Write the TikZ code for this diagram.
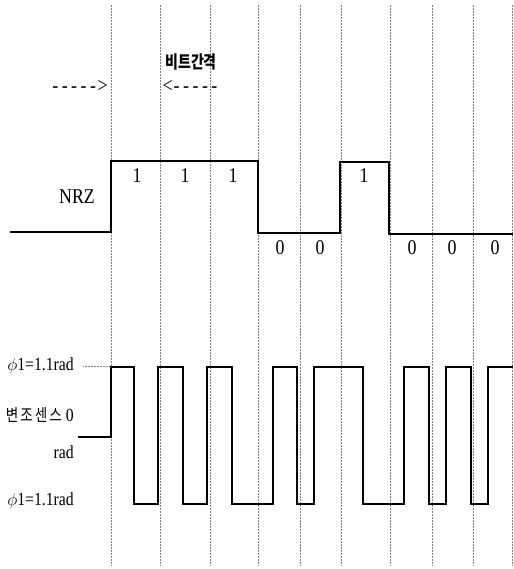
\documentclass[tikz,border=0pt]{standalone}
\usepackage{fontspec}
\setmainfont{Liberation Serif}[FakeStretch=0.85]
\newfontfamily\kor{Noto Sans CJK KR}[FakeStretch=0.8]
\newcommand\strich{-\kern3.5pt}
\tikzset{
	raster/.style={gray, densely dotted, line width=0.5pt},
	signal/.style={black, line width=1.2pt, line join=miter},
	bit/.style={font=\fontsize{21}{23}\selectfont},
	beschr/.style={font=\fontsize{18.5}{20}\selectfont, anchor=east, inner sep=0pt}
}
\begin{document}
\begin{tikzpicture}[x=1pt, y=-1pt]
	\useasboundingbox (0,0) rectangle (513,569);
	% Bitraster
	\foreach \x in {111,160,210,258,300,341,390,432,473,512}
		\draw[raster] (\x,5) -- (\x,565);
	% Bitabstand oben
	\node[bit, inner sep=0pt] (pfeilre) at (80,86) {\strich\strich\strich\strich\strich\kern-2pt>};
	\node[inner sep=0pt, font=\kor\bfseries\fontsize{17.5}{19}\selectfont] (abstand) at (191,62) {비트간격};
	\node[bit, inner sep=0pt] (pfeilli) at (190,86) {<\kern1pt\strich\strich\strich\strich-};

	% NRZ
	\node[bit] (nrz) at (77,197) {NRZ};
	\draw[signal] (10,232) -- (111,232) -- (111,161) -- (258,161) -- (258,233)
		-- (340,233) -- (340,162) -- (389,162) -- (389,234) -- (513,234);
	\foreach \x/\b in {137/1,185/1,233/1,364/1}
		\node[bit] at (\x,176) {\b};
	\foreach \x/\b in {280/0,320/0,412/0,452/0,495/0}
		\node[bit] at (\x,248) {\b};

	% Phasenumtastung
	\draw[raster] (83,366) -- (111,366);
	\node[beschr] (phioben) at (74,366) {$\phi$1=1.1rad};
	\node[beschr] (sense) at (74,415) {{\kor\fontsize{17}{19}\selectfont 변\kern2pt 조\kern2pt 센\kern2pt 스}\kern4pt 0};
	\node[beschr] (rad) at (74,452) {rad};
	\node[beschr] (phiunten) at (74,501) {$\phi$1=1.1rad};
	\draw[signal] (78,437) -- (111,437) -- (111,367) -- (134,367) -- (134,504)
		-- (158,504) -- (158,367) -- (183,367) -- (183,504) -- (207,504)
		-- (207,367) -- (232,367) -- (232,504) -- (273,504) -- (273,367)
		-- (297,367) -- (297,504) -- (314,504) -- (314,367) -- (363,367)
		-- (363,504) -- (404,504) -- (404,367) -- (429,367) -- (429,504)
		-- (446,504) -- (446,367) -- (471,367) -- (471,504) -- (488,504)
		-- (488,367) -- (513,367);
\end{tikzpicture}
\end{document}
